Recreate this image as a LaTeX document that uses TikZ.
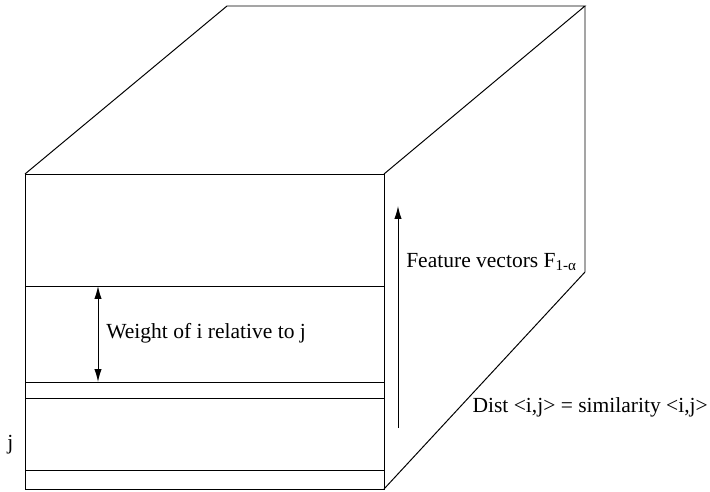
\documentclass[tikz,border=0pt]{standalone}
\usepackage{fontspec}
\setmainfont{Liberation Serif}
\usetikzlibrary{arrows.meta}

\begin{document}
\begin{tikzpicture}[x=0.025cm, y=-0.025cm,
  edge/.style={line width=0.7pt},
  lbl/.style={anchor=west, inner sep=0pt, font=\fontsize{15.3}{18}\selectfont},
  vec/.style={line width=0.7pt, -{Latex[length=3.2mm,width=1.8mm]}},
  dvec/.style={line width=0.7pt, {Latex[length=3.2mm,width=1.8mm]}-{Latex[length=3.2mm,width=1.8mm]}}
]
  \useasboundingbox (0,0) rectangle (710,492);

  % corners of the block
  \coordinate (fnw) at (25,174);
  \coordinate (fne) at (384,174);
  \coordinate (fse) at (384,489);
  \coordinate (fsw) at (25,489);
  \coordinate (bnw) at (227,6);
  \coordinate (bne) at (585,6);
  \coordinate (bse) at (585,272);

  \draw[edge] (fnw) rectangle (fse);
  \draw[edge] (fnw) -- (bnw) -- (bne) -- (fne);
  \draw[edge] (bne) -- (bse) -- (fse);

  % slices
  \foreach \y in {286,382,398,470}
    \draw[edge] (25,\y) -- (384,\y);

  % arrows
  \coordinate (wtop) at (98,286);
  \coordinate (wbot) at (98,382);
  \draw[dvec] (wtop) -- (wbot);
  \coordinate (ftail) at (398,428);
  \coordinate (fhead) at (398,206);
  \draw[vec] (ftail) -- (fhead);

  % labels
  \node[lbl] (feat) at (406,262) {Feature vectors F\textsubscript{1-α}};
  \node[lbl] (wgt) at (106,333) {Weight of i relative to j};
  \node[lbl, anchor=east] (dist) at (708,407) {Dist <i,j> = similarity <i,j>};
  \node[lbl] (jlbl) at (7,445) {j};
\end{tikzpicture}
\end{document}
